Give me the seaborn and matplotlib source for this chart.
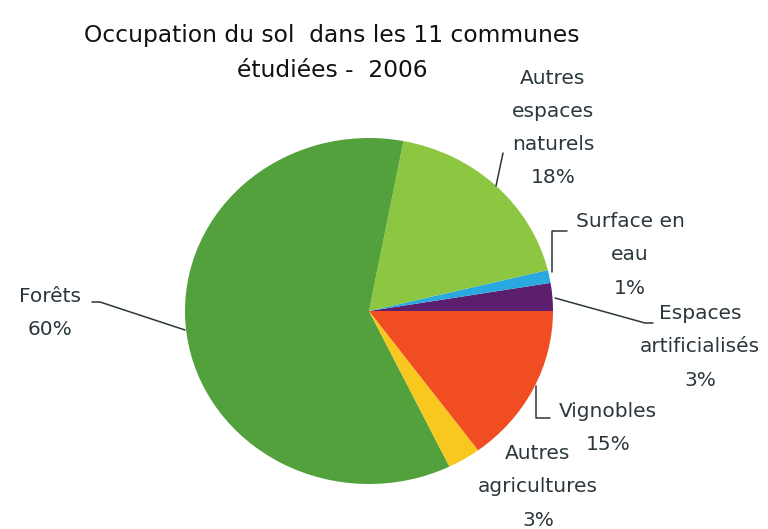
import matplotlib
matplotlib.use("Agg")
import matplotlib.pyplot as plt
import seaborn as sns
from matplotlib.lines import Line2D

sns.set_theme(style="white")
plt.rcParams['font.family'] = ['DejaVu Sans']

# Data (counter-clockwise from 3 o'clock)
categories = ["Espaces\nartificialisés", "Surface en\neau", "Autres\nespaces\nnaturels",
              "Forêts", "Autres\nagricultures", "Vignobles"]
values = [2.6, 1.2, 18.2, 60.2, 2.9, 14.9]
colors = ["#5C1F6E", "#2AA9E0", "#8DC641", "#52A13C", "#F8C81E", "#F04E22"]
title = "Occupation du sol  dans les 11 communes\nétudiées -  2006"

W, H = 768, 529
fig = plt.figure(figsize=(W / 100, H / 100), dpi=100)
fig.patch.set_facecolor("white")

cx, cy, rx, ry = 369, 311, 184, 173
ax = fig.add_axes([(cx - rx) / W, (H - cy - ry) / H, 2 * rx / W, 2 * ry / H])
ax.pie(values, colors=sns.color_palette(colors), startangle=0, counterclock=True,
       radius=1, wedgeprops=dict(linewidth=0))
ax.set_aspect("auto")
ax.set_xlim(-1, 1)
ax.set_ylim(-1, 1)
ax.axis("off")

txt_color = "#2B373D"


def fx(x):
    return x / W


def fy(y):
    return 1 - y / H


def label(x, y, s):
    fig.text(fx(x), fy(y), s, ha="center", va="center", fontsize=14.5,
             color=txt_color, linespacing=1.95)


def leader(pts):
    xs = [fx(p[0]) for p in pts]
    ys = [fy(p[1]) for p in pts]
    fig.add_artist(Line2D(xs, ys, transform=fig.transFigure, color="#2B373D", lw=1.1))


fig.text(fx(332), fy(53), title, ha="center", va="center", fontsize=16.8,
         color="#111111", linespacing=1.65)

pct = [f"{round(v)}%" for v in values]

label(553, 128, categories[2] + "\n" + pct[2])
label(630, 255, categories[1] + "\n" + pct[1])
label(700, 347, categories[0] + "\n" + pct[0])
label(608, 428, categories[5] + "\n" + pct[5])
label(538, 487, categories[4] + "\n" + pct[4])
label(50, 313, categories[3] + "\n" + pct[3])

leader([(92, 302), (100, 302), (185, 330)])
leader([(496, 186), (503, 153)])
leader([(552, 272), (552, 231), (567, 231)])
leader([(555, 298), (645, 323), (653, 323)])
leader([(536, 386), (536, 418), (550, 418)])

fig.savefig("out.png", dpi=100, facecolor="white")
